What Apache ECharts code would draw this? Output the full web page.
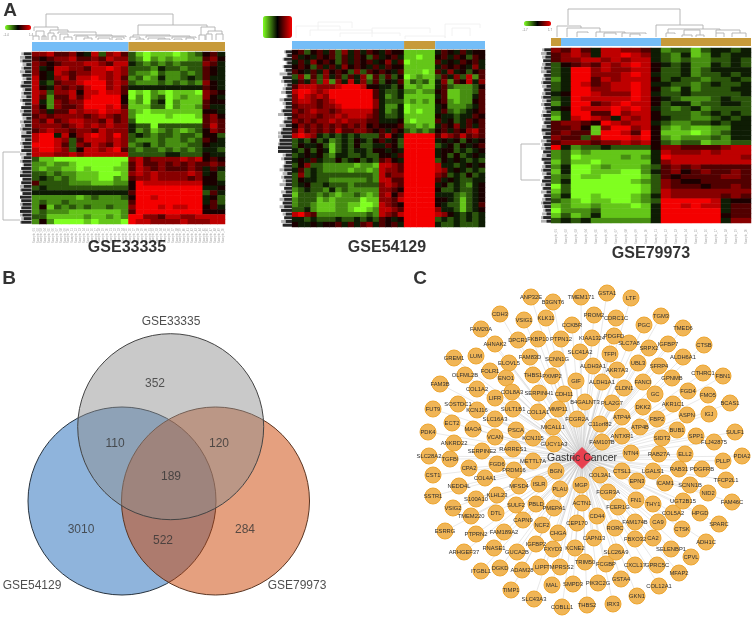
<!DOCTYPE html>
<html><head><meta charset="utf-8">
<style>html,body{margin:0;padding:0;background:#fff}#c{width:752px;height:617px;filter:blur(0.4px)}</style>
<script src="https://cdn.jsdelivr.net/npm/echarts@6/dist/echarts.min.js"></script>
</head><body><div id="c"></div>
<script>
// ---- heatmap values, read by eye: 0 bright green .. 4/5 black .. 9 bright red
const rows33335 = [
"7786675483786"+"3101110123"+"564","6567786676877"+"3202121122"+"675","7656777887688"+"4323232333"+"764",
"7458877688987"+"3332433233"+"654","7548767788787"+"3221322323"+"654","8547868898786"+"2312422343"+"644",
"8436778999787"+"3222323232"+"754","8547676899786"+"4444444444"+"654","8737785889886"+"0102101110"+"765",
"8626686899995"+"0202301211"+"754","8427677999995"+"1203402111"+"655","7527667999896"+"1113302112"+"644",
"7646687889887"+"2101111111"+"554","6767777678767"+"2000010001"+"675","7686788776867"+"3000000000"+"676",
"7777678787877"+"4330333333"+"686","6787767768777"+"4231232123"+"576","8994857898797"+"3432332332"+"553",
"8998736888787"+"3222322323"+"654","9998637687687"+"2342322233"+"544","8998735887896"+"3233232323"+"443",
"8887787888888"+"3333344333"+"544","3110000000000"+"7867777878"+"565","2212210000001"+"6866767676"+"676",
"2122110100011"+"6876766676"+"464","3323221110001"+"7878777787"+"453","3432321110021"+"6778777767"+"553",
"6333322211122"+"5988888888"+"554","3433333333333"+"5999999999"+"445","4444444444444"+"6999999999"+"364",
"2222221232223"+"5998999999"+"453","2322322222222"+"6999999999"+"463","2513232322322"+"7999898899"+"564",
"2322211111112"+"6999999999"+"555","3311111211212"+"9977688778"+"888","2520000101110"+"9887777877"+"788"];
const rows54129 = [
"563564637464654655"+"11111"+"46546455","645465636465364564"+"11011"+"56465365","464756536465645746"+"01111"+"64546564",
"565364647565464655"+"11111"+"46565474","654647565373656546"+"11101"+"64745356","372637463647263635"+"01211"+"36473826",
"464738274847363546"+"13231"+"47265847","688877789998554435"+"11211"+"46322235","899878999999964334"+"22122"+"56112236",
"798787999999964234"+"11111"+"46112246","788767899999974333"+"12121"+"56212256","677767789999974224"+"01111"+"45222346",
"767877678888864234"+"01011"+"46323456","677767787888764334"+"11111"+"54434465","767677878777664445"+"10111"+"64534656",
"576767676767565556"+"22121"+"46574646","686767686677656465"+"32323"+"56465786","898743434343336854"+"99999"+"68768676",
"343534234354356453"+"99999"+"45453545","354453134353344653"+"99999"+"34535456","435354134344355454"+"99999"+"45534345",
"345453244334335546"+"99999"+"45353454","454643353453436754"+"99999"+"35454343","357332222212218876"+"99999"+"84434545",
"463432222122128776"+"99999"+"87454343","373433333333328677"+"99999"+"76343534","354433222222328866"+"99999"+"64543344",
"345334333233337876"+"99999"+"45343245","234332423222227765"+"99999"+"53343345","133323212232127857"+"99999"+"44432345",
"233312122220117768"+"99999"+"55431345","233211122110018765"+"99999"+"54331346","334211122100128876"+"99999"+"74431345",
"897622222222328768"+"99999"+"87543434","443433343343436545"+"99999"+"34343434","544545564646746564"+"99999"+"43343334"];
const rows79973 = [
"76864887764"+"233134434","67874889874"+"324124344","67788787884"+"323223343","35676878985"+"434224343",
"34997877885"+"334234444","34997778984"+"334233434","24996878885"+"343323343","34986788984"+"433234334",
"34997788985"+"324233344","45998777984"+"334333334","34988888985"+"432223433","24996789885"+"344233443",
"45988898984"+"323423333","24996697885"+"333234343","14898748785"+"433223434","67765987884"+"322334344",
"66751799785"+"212112244","67661998695"+"111012344","76637999895"+"212223244","67776778785"+"323312233",
"94233433335"+"776666788","23121111114"+"877787888","23011112124"+"988888887","13110111114"+"788888888",
"24001211123"+"676766666","14001110024"+"675676676","23011000013"+"656666776","24000000123"+"765566666",
"03000000013"+"766656676","13000000013"+"877777777","24001000124"+"877777676","32101100123"+"999998455",
"12112111014"+"998988466","02223111114"+"999999466","13124111114"+"999999566","34342222224"+"999999477"];
// sample groups along the colour bars: runs of [group, columns]; group 0 blue, 1 gold
const groups33335 = [[0,13],[1,13]];
const groups54129 = [[0,18],[1,5],[0,8]];
const groups79973 = [[1,1],[0,10],[1,9]];
// row dendrogram silhouettes (reach per row)
const rowGray33335 = "899789878978897898798987898798978987899798978989";
const rowDark33335 = "657465746856475867465748576846768797868798789768";
const rowGray54129 = "546465847567486579568799899967568676857685876575";
const rowDark54129 = "435354365344354465354676889945455354454656574546";
const rowGray79973 = "898789978987898978987898798978978987898978987899";
const rowDark79973 = "645756465746574654756485746574865746857465765474";
// column dendrograms: left x, right x, top y, left foot y, right foot y
const dendro33335 = [[46,173,14,27,25],[34,58,27,31,30],[36,44,31,36,40],[33,39,36,40,40],[42,46,36,40,40],[50,68,30,33,32],[48,54,33,40,36],[52,56,36,40,40],[58,96,32,34,35],[60,68,34,40,37],[64,72,37,40,40],[74,112,35,36,36],[76,88,36,40,38],[84,92,38,40,40],[96,126,36,38,37],[98,110,38,40,40],[112,124,37,40,39],[116,122,39,40,40],
[138,207,25,35,27],[133,170,35,37,36],[130,140,37,40,39],[136,144,39,40,40],[146,190,36,38,37],[148,165,38,40,39],[158,170,39,40,40],[172,196,37,39,38],[174,182,39,40,40],[186,194,38,40,40],[201,215,27,35,31],[199,205,35,40,40],[208,222,31,34,34],[206,212,34,40,40],[216,223,34,40,40]];
const dendro54129 = [[296,340,26,38,30],[310,372,30,36,33],[340,400,33,37,36],[372,430,28,37,33],[405,445,36,39,38],[445,480,24,38,28],[452,470,28,36,36],[318,352,22,30,28]];
const dendro79973 = [[568,680,9,25,25],[557,581,26,37,28],[567,600,28,37,32],[577,588,32,37,33],[596,625,32,37,33],[604,616,33,37,35],[622,646,33,37,34],[630,640,34,37,36],[656,703,25,37,29],[668,720,29,33,30],[666,675,33,37,34],[684,700,30,35,35],[682,692,35,37,37],[696,704,35,37,37],[716,740,30,33,33],[716,724,33,37,37],[732,746,33,37,37]];
// row dendrogram main branches: top y, bottom y, left x, top foot x, bottom foot x
const rowBranches = [[152,220,3,20,20],[144,180,521,540,540]];
// Venn
const vennNames = ["GSE54129","GSE79973","GSE33335"];
const vennX = [122,215.5,170.7], vennY = [501,501,426.7], vennR = [94,94,93];
const vennCounts = ["352","110","120","189","3010","522","284"];
const vennCountX = [155,115,219,171,81,163,245], vennCountY = [384,444,444,477,530,541,530];
const vennLabelX = [32,297,171], vennLabelY = [586,586,322];
// Network
const hub = {name:"Gastric Cancer",x:582,y:458};
const geneNames = ["ANP32E","B3GNT6","CDH3","VSIG1","KLK11","FAM20A","AHNAK2","DPCR1","FKBP10","PTPN12","GREM1","LUM","ELOVL5","FAM83D","SCNN1G","OLFML2B","FOLR1","ENO1","THBS1","PXMP2","FAM3B","COL1A2","LIFR","COL8A3","SERPINH1","CDH11","SOSTDC1","KCNJ16","SULT1B1","COL1A1","MMP11","FUT9","SLC16A3","ECT2","MAOA","PSCA","MICALL1","PDK4","VCAN","KCNJ15","GUCY1A3","ANKRD22","SERPINE2","RARRES1","METTL7A","BGN","SLC28A2","TGFBI","CPA2","FGD6","PRDM16","CST1","COL4A1","MFSD4","ISLR","PLAU","MGP","NEDD4L","SSTR1","S100A10","KLHL23","SULF2","PBLD","PMEPA1","VSIG2","TMEM220","DTL","CAPN9","NCF2","CHGA","ESRRG","PTPRN2","FAM189A2","IGFBP2","KCNE2","FXYD3","RNASE1","GUCA2B","ARHGEF37","ITGBL1","DGKD","ADAM28","LIPF","TMPRSS2","TIMP1","MAL","SMPD3","SLC43A3","COBLL1","THBS2","IRX3","GKN1","PIK3C2G","GSTA4","TRIM50","FCGBP","CXCL17","GPRC5C","MFAP2","COL12A1","CPVL","SELENBP1","ADH1C","SLC26A9","FBXO32","CA2","CTSK","SPARC","FAM46C","NID2","HPGD","COL5A2","UGT2B15","THY1","FN1","CA9","FAM174B","RORC","CAPN13","CEP170","CD44","ACTN1","FCER1G","FCGR3A","COL3A1","CTSL1","EPN3","LGALS1","ICAM1","RAB31","PDGFRB","SCNN1B","TFCP2L1","PLLP","PDIA2","ELL2","RAB27A","NTN4","FAM107B","TMEM171","GSTA1","LTF","CCKBR","PROM2","CDRC1C","PGC","TGM3","TMED6","CTSB","KIAA1324","PDGFD","SLC7A8","SRPX2","IGFBP7","ALDH6A1","SLC41A2","TFPI","UBL3","SFRP4","ALDH3A1","AKR7A3","GPNMB","CTHRC1","FBN1","GIF","ALDH1A1","CLDN1","FANCI","GC","FGD4","FMO5","B4GALNT3","PLA2G7","DKK2","AKR1C1","BCAS1","ASPN","IGJ","FBP2","ATP4A","FCGR2A","C11orf82","ATP4B","BUB1","SPP1","SIDT2","ANTXR1","FLJ42875","SULF1"];
const geneX = [531,553,500,524,546,481,495,518,538,561,454,476,509,530,557,465,490,506,533,552,440,477,495,512,539,564,458,477,513,538,558,433,495,452,473,516,553,428,495,533,554,454,482,513,533,556,429,450,469,497,514,433,485,519,539,560,581,459,433,476,497,516,536,554,453,471,496,523,542,558,445,476,504,536,575,553,494,517,464,481,500,522,541,560,511,552,573,534,562,587,613,637,598,621,585,606,635,657,679,659,691,671,706,616,635,653,682,719,732,708,700,673,683,653,636,658,635,615,594,577,597,582,618,608,600,622,637,653,665,679,702,690,726,723,742,685,659,631,602,581,607,631,572,594,616,644,661,683,704,592,614,629,649,668,683,580,610,638,659,593,617,672,703,723,576,602,624,643,655,688,708,585,612,643,673,730,687,709,657,622,577,600,640,677,696,662,622,714,735];
const geneY = [297,302,314,320,318,329,344,340,339,339,358,356,363,357,359,375,371,378,375,376,384,389,398,392,393,394,404,410,409,412,409,409,419,423,429,430,427,432,437,438,444,443,451,449,461,471,456,459,468,464,470,475,478,486,484,489,485,486,496,499,495,505,504,508,508,516,513,520,525,533,531,534,532,544,548,549,548,552,552,571,568,570,567,567,590,585,584,599,607,605,604,596,583,579,562,564,565,565,573,586,557,549,542,552,539,538,529,524,502,493,513,513,501,504,500,522,522,528,538,523,516,503,507,492,475,471,481,471,483,469,469,485,480,461,456,454,454,453,442,297,293,298,325,315,318,325,316,328,345,338,336,343,348,344,357,352,354,363,366,366,370,378,373,376,381,382,388,382,394,391,395,402,403,407,404,403,415,414,419,417,419,424,427,430,436,438,436,442,432];
// Text
const panelLetters = ["A","B","C"], panelX = [10,9,420], panelY = [11,279,279];
const heatTitles = ["GSE33335","GSE54129","GSE79973"], heatTitleX = [127,387,651], heatTitleY = [248,248,254];
const scaleTicks = ["-1.4","1.4","-1.7","1.7"], scaleTickX = [6,31,525,550], scaleTickY = [35,35,30,30];
const sampleCount33335 = 50, sampleCount79973 = 20;

const GREEN='#80ff20', RED='#f40000', BLUEBAR='#74bdf7', GOLD='#c79a3a';
const grids=[],xAxes=[],yAxes=[],series=[],visualMaps=[];
function addGrid(l,t,w,h,xa,ya){
  grids.push({left:l,top:t,width:w,height:h,containLabel:false});
  xa.gridIndex=grids.length-1; ya.gridIndex=grids.length-1;
  xAxes.push(xa); yAxes.push(ya); return grids.length-1;
}
const range=n=>Array.from({length:n},(_,i)=>String(i));
const hiddenAxis=o=>Object.assign({show:false},o);

// page-wide grid: data units are reference pixels
const page=addGrid(0,0,752,617,hiddenAxis({type:'value',min:0,max:752}),hiddenAxis({type:'value',min:0,max:617,inverse:true}));

function heat(id,rows,groups,box,barBox,legend,dendro,dendroColor,rowGray,rowDark,strip){
  const nc=rows[0].length,nr=rows.length;
  const g=addGrid(box[0],box[1],box[2],box[3],hiddenAxis({type:'category',data:range(nc)}),hiddenAxis({type:'category',data:range(nr),inverse:true}));
  const data=[];
  rows.forEach((r,y)=>{for(let x=0;x<nc;x++)data.push([x,y,+r[x]]);});
  series.push({type:'heatmap',xAxisIndex:g,yAxisIndex:g,data,silent:true,progressive:0,itemStyle:{borderWidth:0}});
  visualMaps.push({type:'continuous',seriesIndex:series.length-1,dimension:2,min:0,max:9,calculable:false,hoverLink:false,
    orient:'horizontal',left:legend[0],top:legend[1],itemHeight:legend[2],itemWidth:legend[3],padding:0,text:null,showLabel:false,
    inRange:{color:[GREEN,'#000000',RED]},textStyle:{fontSize:1,color:'rgba(0,0,0,0)'}});
  const gb=addGrid(barBox[0],barBox[1],barBox[2],barBox[3],hiddenAxis({type:'value',min:0,max:nc}),hiddenAxis({type:'category',data:['groups']}));
  groups.forEach(run=>series.push({type:'bar',xAxisIndex:gb,yAxisIndex:gb,stack:'groups'+id,barWidth:'100%',silent:true,
    itemStyle:{color:run[0]?GOLD:BLUEBAR},data:[run[1]]}));
  series.push({type:'custom',xAxisIndex:page,yAxisIndex:page,silent:true,clip:false,data:dendro,
    encode:{x:[0,1],y:[2,3,4]},
    renderItem:(p,api)=>{const a=[api.value(0),api.value(1),api.value(2),api.value(3),api.value(4)];
      return {type:'polyline',shape:{points:[api.coord([a[0],a[3]]),api.coord([a[0],a[2]]),api.coord([a[1],a[2]]),api.coord([a[1],a[4]])]},style:{stroke:dendroColor,fill:null,lineWidth:0.9}};}});
  const n=rowGray.length;
  const gs=addGrid(strip[0],box[1],strip[1],box[3],hiddenAxis({type:'value',min:0,max:9,inverse:true}),hiddenAxis({type:'category',data:range(n),inverse:true}));
  series.push({type:'bar',xAxisIndex:gs,yAxisIndex:gs,silent:true,barWidth:'80%',barGap:'-100%',itemStyle:{color:'#b4b4b4'},data:rowGray.split('').map(Number)});
  series.push({type:'bar',xAxisIndex:gs,yAxisIndex:gs,silent:true,barWidth:'80%',barGap:'-100%',itemStyle:{color:'#262626'},data:rowDark.split('').map(Number)});
}
heat('a',rows33335,groups33335,[32,52,193,172],[32,42,193,9],[5,25,26,5],dendro33335,'#b0b0b0',rowGray33335,rowDark33335,[20,11.5]);
heat('b',rows54129,groups54129,[292,50,193,177],[292,41,193,8],[263,16,29,22],dendro54129,'#f0f0f0',rowGray54129,rowDark54129,[278,14]);
heat('c',rows79973,groups79973,[551,48,200,175],[551,38,200,8],[524,21,27,5],dendro79973,'#b0b0b0',rowGray79973,rowDark79973,[541,10]);

function sampleLabels(n,l,w,t){
  const names=Array.from({length:n},(_,i)=>'Sample_'+String(i+1).padStart(2,'0'));
  addGrid(l,t,w,1,{type:'category',data:names,axisLine:{show:false},axisTick:{show:false},
    axisLabel:{show:true,interval:0,rotate:90,fontSize:3,color:'#aaa',margin:2}},hiddenAxis({type:'value'}));
}
sampleLabels(sampleCount33335,32,193,225);
sampleLabels(sampleCount79973,551,200,226);

// row dendrogram branches
series.push({type:'custom',xAxisIndex:page,yAxisIndex:page,silent:true,clip:false,data:rowBranches,encode:{x:[2,3,4],y:[0,1]},
  renderItem:(p,api)=>({type:'polyline',shape:{points:[api.coord([api.value(3),api.value(0)]),api.coord([api.value(2),api.value(0)]),api.coord([api.value(2),api.value(1)]),api.coord([api.value(4),api.value(1)])]},style:{stroke:'#b0b0b0',fill:null,lineWidth:0.9}})});

// Venn circles
const vennFill=['rgb(143,180,220)','rgba(203,65,0,0.5)','rgba(143,143,143,0.48)'];
const vennStroke=['#26323e','#5a3420','#444444'];
series.push({type:'scatter',xAxisIndex:page,yAxisIndex:page,silent:true,clip:false,
  data:vennNames.map((n,i)=>({name:n,value:[vennX[i],vennY[i]],symbolSize:vennR[i]*2,
    itemStyle:{color:vennFill[i],borderColor:vennStroke[i],borderWidth:1,opacity:1}}))});

// Network
const nodes=[{name:hub.name,value:[hub.x,hub.y],symbol:'diamond',symbolSize:21,
    itemStyle:{color:'#e8404f',borderColor:'#e8404f'},label:{fontSize:10.5,color:'#333'},z:5}]
  .concat(geneNames.map((n,i)=>({name:n,value:[geneX[i],geneY[i]]})));
series.push({type:'graph',layout:'none',coordinateSystem:'cartesian2d',xAxisIndex:page,yAxisIndex:page,silent:true,
  symbol:'circle',symbolSize:16,data:nodes,
  links:geneNames.map((n,i)=>({source:0,target:i+1})),
  itemStyle:{color:'#f0b556',borderColor:'#eea62f',borderWidth:1,opacity:1},
  lineStyle:{color:'#c4c4c4',width:0.6,opacity:0.65,curveness:0},
  label:{show:true,position:'inside',formatter:'{b}',fontSize:5.8,color:'#2f2f2f',fontFamily:'Liberation Sans'}});

function textSeries(t,xs,ys,size,weight,color){
  series.push({type:'scatter',xAxisIndex:page,yAxisIndex:page,silent:true,clip:false,symbolSize:1,z:10,
    itemStyle:{color:'rgba(0,0,0,0)'},
    data:t.map((s,i)=>({name:s,value:[xs[i],ys[i]]})),
    label:{show:true,position:'inside',formatter:'{b}',fontSize:size,fontWeight:weight,color,fontFamily:'Liberation Sans'}});
}
textSeries(panelLetters,panelX,panelY,19,'bold','#000');
textSeries(heatTitles,heatTitleX,heatTitleY,16,'bold','#000');
textSeries(vennCounts,vennCountX,vennCountY,12,'normal','#333');
textSeries(vennNames,vennLabelX,vennLabelY,12,'normal','#222');
textSeries(scaleTicks,scaleTickX,scaleTickY,3,'normal','#666');

const chart=echarts.init(document.getElementById('c'),null,{renderer:'canvas',width:752,height:617});
chart.setOption({animation:false,backgroundColor:'#fff',textStyle:{fontFamily:'Liberation Sans'},tooltip:{show:false},
  grid:grids,xAxis:xAxes,yAxis:yAxes,visualMap:visualMaps,series});
</script></body></html>
